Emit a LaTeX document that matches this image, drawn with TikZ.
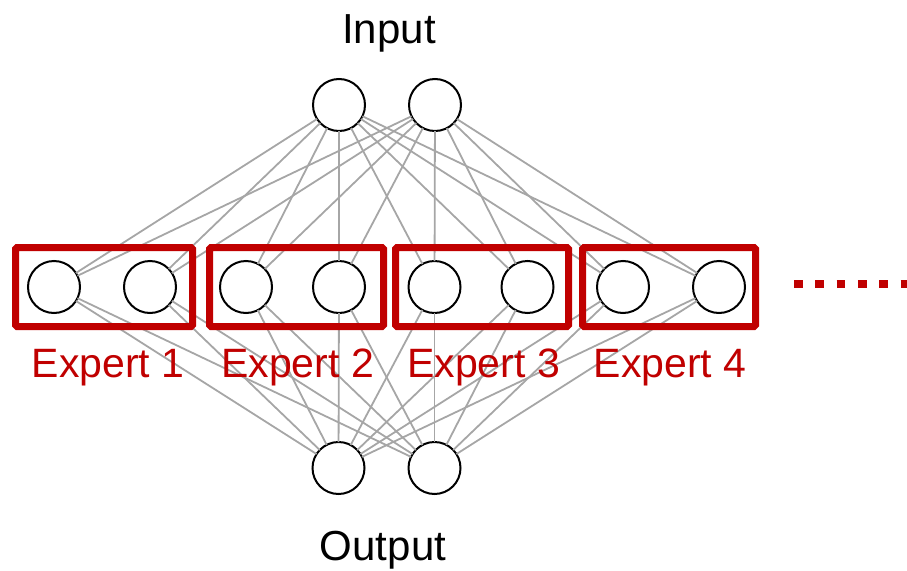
\documentclass[tikz,border=0pt]{standalone}
\usepackage{fontspec}
\setmainfont{Liberation Sans}
\definecolor{expertred}{HTML}{C00000}
\definecolor{edgegray}{HTML}{A6A6A6}
\begin{document}
\begin{tikzpicture}[x=1pt,y=-1pt,
  neuron/.style={circle,draw=black,line width=2pt,fill=white,minimum size=52pt,inner sep=0pt,outer sep=0pt},
  edge/.style={draw=edgegray,line width=1.8pt},
  expertbox/.style={draw=expertred,line width=7pt,rounded corners=1.5pt,minimum height=79pt,inner sep=0pt},
  expertlabel/.style={text=expertred,font=\fontsize{41pt}{41pt}\selectfont,anchor=base,inner sep=0pt},
  titlelabel/.style={font=\fontsize{42pt}{42pt}\selectfont,anchor=base,inner sep=0pt}]
\useasboundingbox (0,0) rectangle (907,570);

% input and output layers
\node[neuron] (i1) at (339,105) {};
\node[neuron] (i2) at (435,105) {};
\node[neuron] (o1) at (338.5,468) {};
\node[neuron] (o2) at (434.5,468) {};

% hidden layer, two neurons per expert
\foreach \n/\x in {1/54,2/150,3/246,4/339,5/434.5,6/527.5,7/623,8/719}
  \node[neuron] (h\n) at (\x,287) {};

% full connections
\foreach \n in {1,...,8}{
  \foreach \a in {i1,i2} \draw[edge] (\a) -- (h\n);
  \foreach \b in {o1,o2} \draw[edge] (h\n) -- (\b);
}

% expert frames
\node[expertbox,minimum width=177pt] (e1) at (104,287) {};
\node[expertbox,minimum width=174pt] (e2) at (296.5,287) {};
\node[expertbox,minimum width=173pt] (e3) at (482,287) {};
\node[expertbox,minimum width=173pt] (e4) at (669,287) {};

\node[expertlabel] (l1) at (108,377) {Expert 1};
\node[expertlabel] (l2) at (297.5,377) {Expert 2};
\node[expertlabel] (l3) at (483.5,377) {Expert 3};
\node[expertlabel] (l4) at (670,377) {Expert 4};

% more experts follow
\coordinate (dotsL) at (794,284);
\coordinate (dotsR) at (907,284);
\draw[expertred,line width=8.5pt,dash pattern=on 8.7pt off 12.6pt] (dotsL) -- (dotsR);

\node[titlelabel] (inlabel) at (389,43) {Input};
\node[titlelabel] (outlabel) at (383,560) {Output};
\end{tikzpicture}
\end{document}
